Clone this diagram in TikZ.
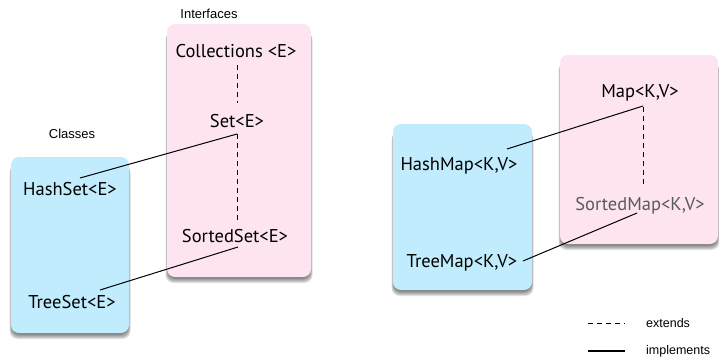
\documentclass[tikz,border=0pt]{standalone}
\usepackage{fontspec}
\setmainfont{PT Sans}
\newfontfamily\smallfont{Liberation Sans}
\definecolor{ifpink}{RGB}{253,228,240}
\definecolor{clblue}{RGB}{192,236,253}
\definecolor{smgray}{RGB}{90,90,90}
\begin{document}
\begin{tikzpicture}[x=1pt,y=-1pt,
  lbl/.style={anchor=base,inner sep=0pt,font=\fontsize{18.5}{20}\selectfont},
  captext/.style={anchor=base,inner sep=0pt,font=\smallfont\fontsize{13}{15}\selectfont},
  ext/.style={draw=black,line width=1pt,dash pattern=on 5pt off 4pt},
  impl/.style={draw=black,line width=1pt},
  boxshadow/.style={fill=black,opacity=0.11,rounded corners=8pt},
]
\useasboundingbox (0,0) rectangle (719,360);
% shadows
\foreach \a/\b/\c/\d in {167/24/311/277, 11/157/129/333, 560/55/718/244, 393/124/532/290}{
  \foreach \s in {1,2,3,4,5,6}{
    \fill[boxshadow] (\a+1.5-\s*0.5,\b+2+\s) rectangle (\c-1.5+\s*0.5,\d+\s);
  }
}
% boxes
\fill[ifpink,rounded corners=8pt] (167,24) rectangle (311,277);
\fill[clblue,rounded corners=8pt] (11,157) rectangle (129,333);
\fill[ifpink,rounded corners=8pt] (560,55) rectangle (718,244);
\fill[clblue,rounded corners=8pt] (393,124) rectangle (532,290);
% captions
\node[captext] (capif) at (209,18) {Interfaces};
\node[captext] (capcl) at (72,138) {Classes};
% nodes
\node[lbl] (coll) at (236,57) {Collections <E>};
\node[lbl] (set) at (237,127) {Set<E>};
\node[lbl] (sset) at (235,242) {SortedSet<E>};
\node[lbl] (hset) at (70,195) {HashSet<E>};
\node[lbl] (tset) at (72,308) {TreeSet<E>};
\node[lbl] (map) at (640,97) {Map<K,V>};
\node[lbl,text=smgray] (smap) at (640,210) {SortedMap<K,V>};
\node[lbl] (hmap) at (459,170) {HashMap<K,V>};
\node[lbl] (tmap) at (462,267) {TreeMap<K,V>};
% extends
\draw[ext] ([shift={(1,8)}]coll.base) -- ([shift={(0,-24)}]set.base);
\draw[ext] ([shift={(0,7)}]set.base) -- ([shift={(2,-19)}]sset.base);
\draw[ext] ([shift={(3,10)}]map.base) -- ([shift={(3,-25)}]smap.base);
% implements
\draw[impl] ([shift={(10,-17)}]hset.base) -- ([shift={(0,7)}]set.base);
\draw[impl] ([shift={(28,-18)}]tset.base) -- ([shift={(3,5)}]sset.base);
\draw[impl] ([shift={(48,-21)}]hmap.base) -- ([shift={(3,9)}]map.base);
\draw[impl] ([shift={(61,-6)}]tmap.base) -- ([shift={(-3,3)}]smap.base);
% legend
\coordinate (le1) at (588,323);
\coordinate (le2) at (625,323);
\coordinate (li1) at (588,351);
\coordinate (li2) at (625,351);
\draw[ext] (le1) -- (le2);
\draw[impl,line width=2pt] (li1) -- (li2);
\node[captext,anchor=west,font=\smallfont\fontsize{12.5}{14}\selectfont] (lext) at (646,323) {extends};
\node[captext,anchor=west,font=\smallfont\fontsize{12.5}{14}\selectfont] (limp) at (646,351) {implements};
\end{tikzpicture}
\end{document}
